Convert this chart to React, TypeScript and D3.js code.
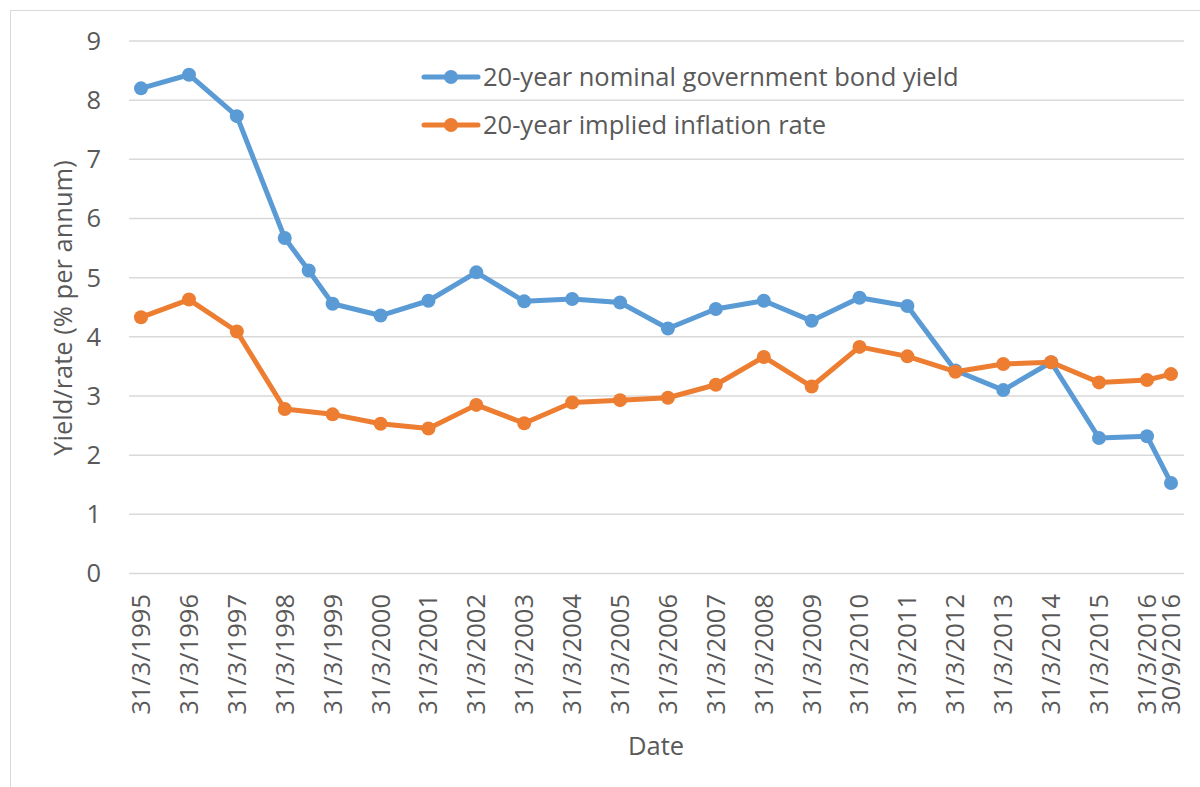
import React, { useEffect, useRef } from 'react';
import * as d3 from 'd3';

// x axis labels (one per data date)
const tickLabels = [
    '31/3/1995', '31/3/1996', '31/3/1997', '31/3/1998', '31/3/1999', '31/3/2000',
    '31/3/2001', '31/3/2002', '31/3/2003', '31/3/2004', '31/3/2005', '31/3/2006',
    '31/3/2007', '31/3/2008', '31/3/2009', '31/3/2010', '31/3/2011', '31/3/2012',
    '31/3/2013', '31/3/2014', '31/3/2015', '31/3/2016', '30/9/2016'
];

// nominal yield has one extra reading in late 1998
const nominalDates = [
    '31/3/1995', '31/3/1996', '31/3/1997', '31/3/1998', '30/9/1998', '31/3/1999',
    '31/3/2000', '31/3/2001', '31/3/2002', '31/3/2003', '31/3/2004', '31/3/2005',
    '31/3/2006', '31/3/2007', '31/3/2008', '31/3/2009', '31/3/2010', '31/3/2011',
    '31/3/2012', '31/3/2013', '31/3/2014', '31/3/2015', '31/3/2016', '30/9/2016'
];
const nominalYield = [
    8.2, 8.43, 7.73, 5.67, 5.12, 4.56, 4.36, 4.61, 5.09, 4.6, 4.64, 4.58,
    4.14, 4.47, 4.61, 4.27, 4.66, 4.52, 3.43, 3.1, 3.57, 2.29, 2.32, 1.53
];

const inflationDates = tickLabels;
const inflationRate = [
    4.33, 4.63, 4.09, 2.78, 2.69, 2.53, 2.45, 2.85, 2.54, 2.89, 2.93, 2.97,
    3.19, 3.66, 3.16, 3.83, 3.67, 3.41, 3.54, 3.57, 3.23, 3.27, 3.37
];

const yTicks = [0, 1, 2, 3, 4, 5, 6, 7, 8, 9];

const seriesNames = ['20-year nominal government bond yield', '20-year implied inflation rate'];
const seriesColors = ['#5B9BD5', '#ED7D31'];

const FONT = '"Open Sans", sans-serif';
const FONT_SIZE = 25.5;
const TEXT = '#595959';
const GRID = '#d9d9d9';

const App = () => {
    const ref = useRef<SVGSVGElement>(null);

    useEffect(() => {
        const parse = d3.timeParse('%d/%m/%Y');
        const svg = d3.select(ref.current);
        svg.selectAll('*').remove();

        const x = d3.scaleTime()
            .domain([parse(tickLabels[0])!, parse(tickLabels[tickLabels.length - 1])!])
            .range([141, 1171]);

        const y = d3.scaleLinear()
            .domain([0, 9])
            .range([573.5, 41]);

        const gridLeft = 129;
        const gridRight = 1184;

        // chart frame
        svg.append('rect')
            .attr('x', 10.5).attr('y', 10.5)
            .attr('width', 1250).attr('height', 850)
            .attr('fill', 'white')
            .attr('stroke', GRID)
            .attr('stroke-width', 1);

        // gridlines
        svg.append('g')
            .selectAll('line')
            .data(yTicks)
            .enter()
            .append('line')
            .attr('x1', gridLeft)
            .attr('x2', gridRight)
            .attr('y1', d => y(d))
            .attr('y2', d => y(d))
            .attr('stroke', GRID)
            .attr('stroke-width', 1.5);

        // y tick labels
        svg.append('g')
            .selectAll('text')
            .data(yTicks)
            .enter()
            .append('text')
            .attr('x', 101)
            .attr('y', d => y(d))
            .attr('dy', '0.35em')
            .attr('text-anchor', 'end')
            .attr('font-family', FONT)
            .attr('font-size', FONT_SIZE)
            .attr('fill', TEXT)
            .text(d => d);

        // x tick labels, rotated
        svg.append('g')
            .selectAll('text')
            .data(tickLabels)
            .enter()
            .append('text')
            .attr('transform', d => `translate(${x(parse(d)!)},594) rotate(-90)`)
            .attr('dy', '0.35em')
            .attr('text-anchor', 'end')
            .attr('font-family', FONT)
            .attr('font-size', FONT_SIZE)
            .attr('fill', TEXT)
            .text(d => d);

        // axis titles
        svg.append('text')
            .attr('x', 656).attr('y', 755)
            .attr('text-anchor', 'middle')
            .attr('font-family', FONT)
            .attr('font-size', FONT_SIZE)
            .attr('fill', TEXT)
            .text('Date');

        svg.append('text')
            .attr('transform', 'translate(63,308) rotate(-90)')
            .attr('dy', '0.35em')
            .attr('text-anchor', 'middle')
            .attr('font-family', FONT)
            .attr('font-size', FONT_SIZE)
            .attr('fill', TEXT)
            .text('Yield/rate (% per annum)');

        const series = [
            nominalDates.map((d, i) => ({ date: parse(d)!, value: nominalYield[i] })),
            inflationDates.map((d, i) => ({ date: parse(d)!, value: inflationRate[i] }))
        ];

        const line = d3.line<{ date: Date; value: number }>()
            .x(d => x(d.date))
            .y(d => y(d.value));

        series.forEach((data, s) => {
            const g = svg.append('g');
            g.append('path')
                .datum(data)
                .attr('d', line)
                .attr('fill', 'none')
                .attr('stroke', seriesColors[s])
                .attr('stroke-width', 5)
                .attr('stroke-linejoin', 'round')
                .attr('stroke-linecap', 'round');
            g.selectAll('circle')
                .data(data)
                .enter()
                .append('circle')
                .attr('cx', d => x(d.date))
                .attr('cy', d => y(d.value))
                .attr('r', 7)
                .attr('fill', seriesColors[s]);
        });

        // legend
        const legend = svg.append('g');
        seriesNames.forEach((name, i) => {
            const ly = 77 + i * 48;
            legend.append('line')
                .attr('x1', 424).attr('x2', 478)
                .attr('y1', ly).attr('y2', ly)
                .attr('stroke', seriesColors[i])
                .attr('stroke-width', 5)
                .attr('stroke-linecap', 'round');
            legend.append('circle')
                .attr('cx', 451).attr('cy', ly)
                .attr('r', 7)
                .attr('fill', seriesColors[i]);
            legend.append('text')
                .attr('x', 483).attr('y', ly)
                .attr('dy', '0.35em')
                .attr('font-family', FONT)
                .attr('font-size', FONT_SIZE)
                .attr('fill', TEXT)
                .text(name);
        });
    }, []);

    return (
        <svg ref={ref} width="1200" height="787"
            style={{ position: 'absolute', left: 0, top: 0, display: 'block', background: 'white' }} />
    );
};

export default App;
